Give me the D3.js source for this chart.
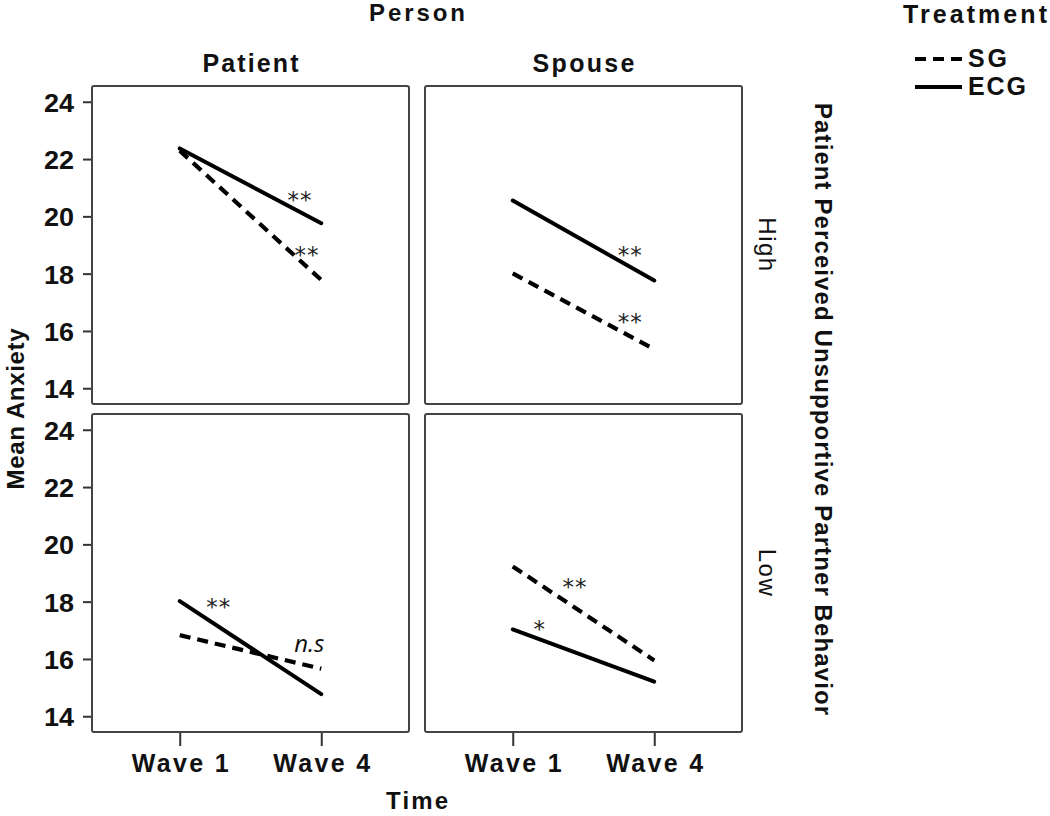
<!DOCTYPE html>
<html>
<head>
<meta charset="utf-8">
<script src="https://cdn.jsdelivr.net/npm/d3@7"></script>
<style>
  html, body { margin: 0; padding: 0; background: #fff; }
  svg { display: block; }
  text { fill: #111; }
</style>
</head>
<body>
<script>
// ---------- data ----------
const persons = ["Patient", "Spouse"];
const levels = ["High", "Low"];
const waves = ["Wave 1", "Wave 4"];
const yTicks = [14, 16, 18, 20, 22, 24];
const treatments = ["SG", "ECG"];

const patientHighSG  = [22.29, 17.78];
const patientHighECG = [22.37, 19.76];
const spouseHighSG   = [18.01, 15.36];
const spouseHighECG  = [20.55, 17.76];
const patientLowSG   = [16.83, 15.66];
const patientLowECG  = [18.02, 14.77];
const spouseLowSG    = [19.23, 15.95];
const spouseLowECG   = [17.03, 15.21];

// significance labels: [person, level, label, position between waves (0..1), value]
const annPerson = ["Patient", "Patient", "Spouse", "Spouse", "Patient", "Patient", "Spouse", "Spouse"];
const annLevel  = ["High", "High", "High", "High", "Low", "Low", "Low", "Low"];
const annText   = ["**", "**", "**", "**", "**", "n.s", "**", "*"];
const annT      = [0.85, 0.90, 0.83, 0.83, 0.275, 0.915, 0.44, 0.19];
const annV      = [20.78, 18.86, 18.86, 16.53, 18.01, 16.48, 18.71, 17.24];

// ---------- layout ----------
const W = 1050, H = 816;
const colX = d3.scaleBand().domain(persons).range([92, 742]).paddingInner(16 / 333);
const rowY = d3.scaleBand().domain(levels).range([86, 732]).paddingInner(10 / 328);
const pw = colX.bandwidth(), ph = rowY.bandwidth();

const x = d3.scalePoint().domain(waves).range([0, pw]).padding(0.62);
const y = d3.scaleLinear().domain([13.45, 24.55]).range([ph, 0]);

const seriesFor = (p, l) => {
  if (p === "Patient" && l === "High") return { SG: patientHighSG, ECG: patientHighECG };
  if (p === "Spouse" && l === "High") return { SG: spouseHighSG, ECG: spouseHighECG };
  if (p === "Patient" && l === "Low") return { SG: patientLowSG, ECG: patientLowECG };
  return { SG: spouseLowSG, ECG: spouseLowECG };
};

const boldFont = "'Liberation Sans', Arial, sans-serif";

const svg = d3.select("body").append("svg")
  .attr("width", W).attr("height", H)
  .attr("viewBox", `0 0 ${W} ${H}`);
svg.append("rect").attr("width", W).attr("height", H).attr("fill", "#fff");

const line = d3.line().x((d, i) => x(waves[i])).y(d => y(d));

persons.forEach(p => {
  levels.forEach(l => {
    const g = svg.append("g").attr("transform", `translate(${colX(p)},${rowY(l)})`);

    // axes
    if (p === persons[0]) {
      const ya = g.append("g").call(d3.axisLeft(y).tickValues(yTicks).tickSize(9).tickPadding(9).tickFormat(d3.format("d")));
      ya.select(".domain").remove();
      ya.selectAll(".tick line").attr("stroke", "#333").attr("stroke-width", 2);
      ya.selectAll(".tick text")
        .attr("fill", "#111").attr("dy", "0.36em")
        .style("font-family", boldFont).style("font-weight", "bold")
        .style("font-size", "26px").attr("textLength", 30).attr("lengthAdjust", "spacingAndGlyphs");
    }
    if (l === levels[levels.length - 1]) {
      const xa = g.append("g").attr("transform", `translate(0,${ph})`)
        .call(d3.axisBottom(x).tickSize(14).tickPadding(8));
      xa.select(".domain").remove();
      xa.selectAll(".tick line").attr("stroke", "#333").attr("stroke-width", 2);
      xa.selectAll(".tick text")
        .attr("fill", "#111")
        .style("font-family", boldFont).style("font-weight", "bold")
        .style("font-size", "25px").attr("textLength", 97).attr("lengthAdjust", "spacing");
    }

    // panel frame
    g.append("rect").attr("x", 0).attr("y", 0).attr("width", pw).attr("height", ph)
      .attr("rx", 2).attr("fill", "none").attr("stroke", "#444").attr("stroke-width", 2);

    // lines
    const s = seriesFor(p, l);
    g.append("path").datum(s.SG).attr("d", line)
      .attr("fill", "none").attr("stroke", "#000").attr("stroke-width", 4.2)
      .attr("stroke-dasharray", "11,7").attr("stroke-linecap", "butt");
    g.append("path").datum(s.ECG).attr("d", line)
      .attr("fill", "none").attr("stroke", "#000").attr("stroke-width", 4)
      .attr("stroke-linecap", "round");

    // annotations
    annText.forEach((t, i) => {
      if (annPerson[i] !== p || annLevel[i] !== l) return;
      const ax = x(waves[0]) + annT[i] * (x(waves[1]) - x(waves[0]));
      const ay = y(annV[i]);
      if (t === "n.s") {
        g.append("text").attr("x", ax).attr("y", ay + 7).attr("text-anchor", "middle")
          .style("font-family", "'Open Sans', 'Liberation Sans', sans-serif")
          .style("font-style", "italic").style("font-size", "24px").text(t);
      } else {
        g.append("text").attr("x", ax).attr("y", ay + 14).attr("text-anchor", "middle")
          .style("font-family", "'DejaVu Sans', sans-serif")
          .style("font-size", "23px").style("letter-spacing", "1px").style("fill", "#222").text(t);
      }
    });
  });
});

// ---------- titles & strips ----------
const cx = (colX(persons[0]) + colX(persons[1]) + pw) / 2;
const cy = (rowY(levels[0]) + rowY(levels[1]) + ph) / 2;

function boldText(txt, xx, yy, len, anchor = "middle", rot = 0, size = 25) {
  const t = svg.append("text")
    .attr("text-anchor", anchor)
    .attr("transform", `translate(${xx},${yy}) rotate(${rot})`)
    .style("font-family", boldFont).style("font-weight", "bold")
    .style("font-size", size + "px").text(txt);
  if (len) t.attr("textLength", len).attr("lengthAdjust", "spacing");
  return t;
}

boldText("Person", cx, 21, 96, "middle", 0, 24);
boldText("Patient", colX("Patient") + pw / 2, 72, 96);
boldText("Spouse", colX("Spouse") + pw / 2, 72, 102);
boldText("Time", cx, 809, 62, "middle", 0, 24);
boldText("Mean Anxiety", 24, cy, 161, "middle", -90, 24);
boldText("Patient Perceived Unsupportive Partner Behavior", 815, cy, 612, "middle", 90, 24);

levels.forEach(l => {
  svg.append("text")
    .attr("text-anchor", "middle")
    .attr("transform", `translate(759,${rowY(l) + ph / 2}) rotate(90)`)
    .style("font-family", boldFont)
    .style("font-size", "24px").style("letter-spacing", "1.5px").text(l);
});

// ---------- legend ----------
boldText("Treatment", 903, 23, 144, "start");
const legY = [59, 87];
treatments.forEach((tr, i) => {
  svg.append("line").attr("x1", 915).attr("x2", 962).attr("y1", legY[i]).attr("y2", legY[i])
    .attr("stroke", "#000").attr("stroke-width", 4.2)
    .attr("stroke-dasharray", tr === "SG" ? "11,7" : null);
  boldText(tr, 968, legY[i] + 8, tr === "SG" ? 39 : 58, "start");
});
</script>
</body>
</html>
